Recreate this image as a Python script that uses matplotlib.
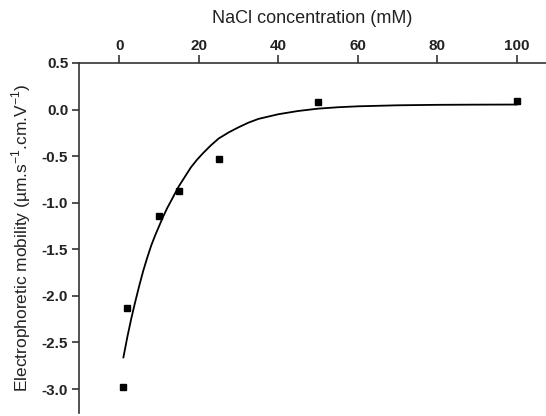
import numpy as np
import matplotlib
matplotlib.use("Agg")
import matplotlib.pyplot as plt

# measured points
nacl_mm = [1, 2, 10, 15, 25, 50, 100]
mobility = [-2.98, -2.13, -1.14, -0.87, -0.53, 0.08, 0.09]

# fitted curve
fit_x = [1, 1.5, 2, 2.5, 3, 4, 5, 6, 7, 8, 9, 10, 11, 12, 13.5, 15, 16.5, 18, 19.5,
         21, 23, 25, 27.5, 30, 32.5, 35, 40, 45, 50, 55, 60, 70, 80, 90, 100]
fit_y = [-2.66, -2.55, -2.44, -2.34, -2.24, -2.06, -1.89, -1.73, -1.59, -1.46, -1.35,
         -1.25, -1.15, -1.06, -0.94, -0.82, -0.72, -0.62, -0.54, -0.47, -0.385, -0.31,
         -0.245, -0.19, -0.14, -0.10, -0.05, -0.015, 0.01, 0.025, 0.035, 0.046, 0.051,
         0.053, 0.054]

y_ticks = [0.5, 0.0, -0.5, -1.0, -1.5, -2.0, -2.5, -3.0]
x_ticks = [0, 20, 40, 60, 80, 100]

plt.rcParams['font.family'] = ['Liberation Sans', 'DejaVu Sans']
plt.rcParams['mathtext.fontset'] = 'custom'
plt.rcParams['mathtext.rm'] = 'Liberation Sans'
plt.rcParams['axes.unicode_minus'] = False

fig = plt.figure(figsize=(5.46, 4.16), dpi=100)
ax = fig.add_axes([79.3 / 546, 2.7 / 416, 1 - 79.3 / 546, (413.3 - 63.0) / 416])

ax.plot(fit_x, fit_y, '-', color='black', lw=1.3)
ax.plot(nacl_mm, mobility, 's', color='black', ms=5)

ax.set_xlim(-10.1, 107.4)
ax.set_ylim(-3.26, 0.5)

ax.spines['right'].set_visible(False)
ax.spines['bottom'].set_visible(False)
for s in ('top', 'left'):
    ax.spines[s].set_linewidth(1.2)
    ax.spines[s].set_color('#333333')

ax.xaxis.set_ticks_position('top')
ax.xaxis.set_label_position('top')
ax.set_xticks(x_ticks)
ax.set_xticklabels([str(v) for v in x_ticks])
ax.set_yticks(y_ticks)
ax.set_yticklabels(["%.1f" % v for v in y_ticks])
ax.tick_params(axis='x', direction='out', length=5.5, width=1.1, pad=2,
               labelsize=11, colors='#222222')
ax.tick_params(axis='y', direction='out', length=5, width=1.1, pad=3,
               labelsize=11, colors='#222222')
for lab in ax.get_xticklabels() + ax.get_yticklabels():
    lab.set_fontweight('bold')

ax.set_xlabel('NaCl concentration (mM)', fontsize=13, labelpad=11, color='#222222')
ax.set_ylabel(r'Electrophoretic mobility (µm.s$^{-1}$.cm.V$^{-1}$)',
              fontsize=12.5, labelpad=6, color='#222222')

fig.savefig('out.png', dpi=100)
